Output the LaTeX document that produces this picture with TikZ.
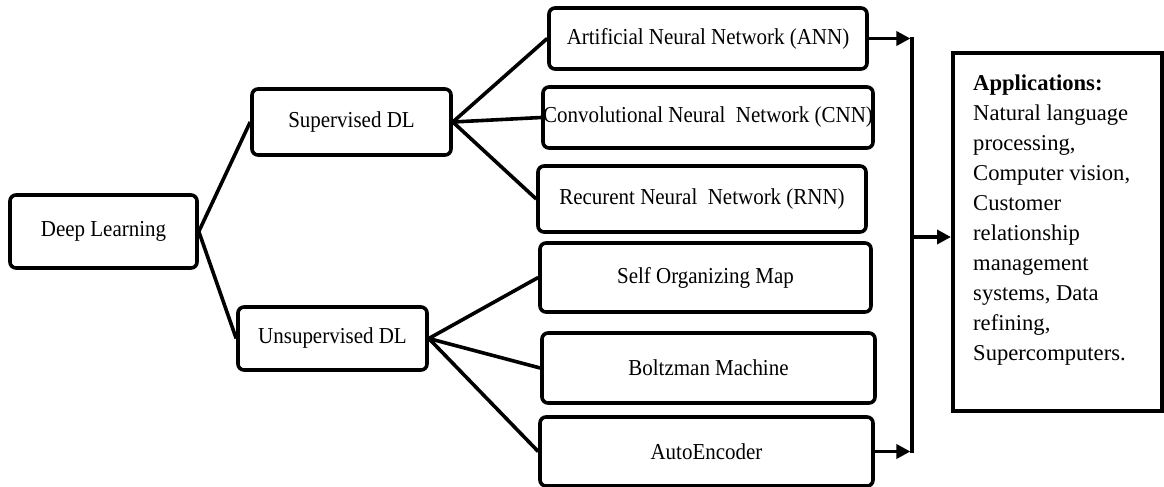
\documentclass[tikz,border=0pt]{standalone}
\usepackage{fontspec}
\setmainfont{Liberation Serif}
\newfontfamily\boxfont[FakeStretch=0.92]{Liberation Serif}
\usetikzlibrary{arrows.meta}
\begin{document}
\begin{tikzpicture}[x=1pt,y=-1pt,
  box/.style={draw=black, line width=3.6pt, rounded corners=6pt, fill=white,
    inner sep=0pt, font=\boxfont\fontsize{22.8}{27}\selectfont},
  appbox/.style={draw=black, line width=4pt, inner sep=0pt},
  apptext/.style={inner sep=0pt, align=left, anchor=north west,
    font=\fontsize{22.6}{30}\selectfont},
  link/.style={line width=3.6pt},
  arr/.style={line width=3.6pt, -{Triangle[length=14pt,width=14pt]}}
]
\useasboundingbox (0,0) rectangle (1164,487);

\node[box, minimum width=187pt, minimum height=73pt] (dl) at (103.5,231.5) {Deep Learning};
\node[box, minimum width=199pt, minimum height=66pt] (sdl) at (351.5,122) {Supervised DL};
\node[box, minimum width=189pt, minimum height=63pt] (udl) at (332.5,338.5) {Unsupervised DL};

\node[box, minimum width=318pt, minimum height=61pt] (ann) at (708,38.5) {Artificial Neural Network (ANN)};
\node[box, minimum width=330pt, minimum height=61pt] (cnn) at (708,117.5) {Convolutional Neural \ Network (CNN)};
\node[box, minimum width=328pt, minimum height=66pt] (rnn) at (702,199) {Recurent Neural \ Network (RNN)};
\node[box, minimum width=331pt, minimum height=69pt] (som) at (705.5,277.5) {Self Organizing Map};
\node[box, minimum width=333pt, minimum height=70pt] (bm) at (708.5,368) {Boltzman Machine};
\node[box, minimum width=333pt, minimum height=69pt] (ae) at (706.5,451.5) {AutoEncoder};

\node[appbox, minimum width=209pt, minimum height=358pt] (apps) at (1057.5,232) {};
\node[apptext] (appstext) at (973,74.5) {\textbf{Applications:}\\Natural language\\processing,\\Computer vision,\\Customer\\relationship\\management\\systems, Data\\refining,\\Supercomputers.};

\draw[link] (dl.east) -- (sdl.west);
\draw[link] (dl.east) -- (udl.west);
\draw[link] (sdl.east) -- (ann.west);
\draw[link] (sdl.east) -- (cnn.west);
\draw[link] (sdl.east) -- (rnn.west);
\draw[link] (udl.east) -- (som.west);
\draw[link] (udl.east) -- (bm.west);
\draw[link] (udl.east) -- (ae.west);

\coordinate (jtop) at (912,38.5);
\coordinate (jbot) at (912,451.5);
\coordinate (jmid) at (912,237);
\draw[link] ([yshift=1.8pt]jtop) -- ([yshift=-1.8pt]jbot);
\draw[arr] (ann.east) -- ([xshift=-1.6pt]jtop);
\draw[arr] (ae.east) -- ([xshift=-1.6pt]jbot);
\draw[arr] (jmid) -- (jmid -| apps.west);
\end{tikzpicture}
\end{document}
